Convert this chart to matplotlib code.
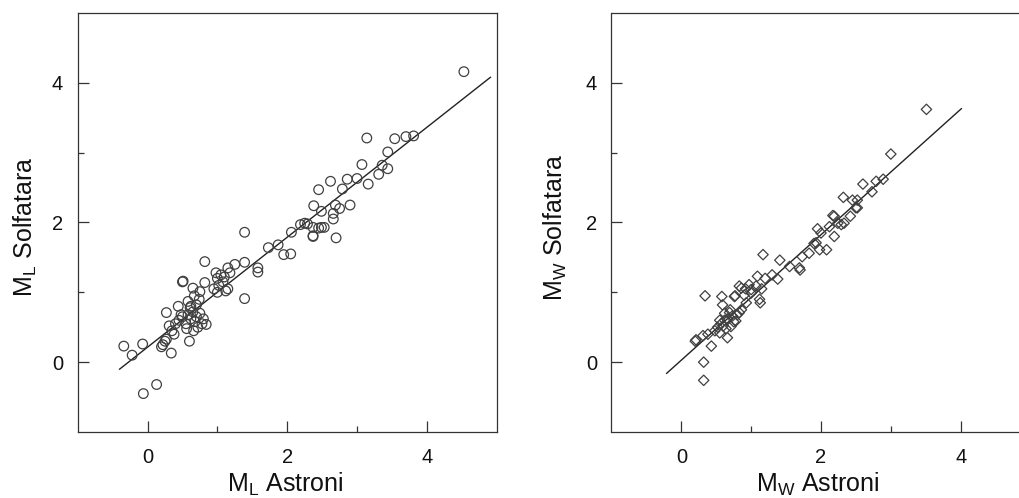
import numpy as np
import matplotlib
matplotlib.use("Agg")
import matplotlib.pyplot as plt
from matplotlib.ticker import FixedLocator

plt.rcParams['font.family'] = ['Liberation Sans', 'DejaVu Sans']
plt.rcParams['mathtext.fontset'] = 'custom'
plt.rcParams['mathtext.rm'] = 'Liberation Sans'

# ---- data: left panel (ML) ----
ml_astroni = [-0.34, -0.22, -0.07, -0.06, 0.13,
              0.20, 0.22, 0.25, 0.27, 0.34, 0.27, 0.31,
              0.44, 0.51, 0.58, 0.61, 0.60,
              0.45, 0.50, 0.55, 0.58, 0.62, 0.65, 0.68, 0.70, 0.72, 0.75, 0.78, 0.80,
              0.84, 0.66, 0.56, 0.48, 0.40, 0.38, 0.35, 0.62, 0.70, 0.74, 0.67,
              0.65, 0.82, 0.82, 0.75, 0.50,
              0.95, 1.00, 1.02, 1.05, 1.08, 1.10, 1.12, 1.15, 1.18, 1.15, 1.25, 1.00, 0.98,
              1.39, 1.39, 1.39, 1.58, 1.58, 1.73, 1.87, 1.95, 2.05, 2.06, 2.19, 2.29,
              2.37, 2.45, 2.53, 2.70, 2.37,
              2.25, 2.37, 2.49, 2.66, 2.38, 2.69, 2.90, 2.75, 2.66, 2.49, 2.45, 2.79,
              2.62, 2.86, 3.00, 3.16, 3.07, 3.36, 3.44, 3.31, 3.44, 3.14, 3.54, 3.70,
              3.81, 4.53]
ml_solfatara = [0.23, 0.10, 0.26, -0.45, -0.32,
                0.22, 0.25, 0.30, 0.33, 0.13, 0.71, 0.52,
                0.80, 1.16, 0.87, 0.78, 0.30,
                0.60, 0.65, 0.55, 0.68, 0.62, 0.72, 0.58, 0.65, 0.50, 0.70, 0.55, 0.62,
                0.54, 0.45, 0.48, 0.68, 0.55, 0.40, 0.45, 0.80, 0.82, 0.90, 0.95,
                1.06, 1.14, 1.44, 1.01, 1.15,
                1.05, 1.20, 1.10, 1.25, 1.15, 1.22, 1.02, 1.05, 1.28, 1.35, 1.40, 1.00, 1.28,
                1.86, 1.43, 0.91, 1.35, 1.29, 1.64, 1.68, 1.54, 1.55, 1.86, 1.97, 1.98,
                1.81, 1.92, 1.93, 1.78, 1.80,
                1.99, 1.93, 1.93, 2.05, 2.24, 2.25, 2.25, 2.20, 2.13, 2.16, 2.47, 2.48,
                2.59, 2.62, 2.63, 2.55, 2.83, 2.82, 2.77, 2.69, 3.01, 3.21, 3.20, 3.23,
                3.24, 4.16]
ml_fit_coef = [0.787, 0.215]      # slope, intercept
ml_fit_range = [-0.40, 4.91]

# ---- data: right panel (MW) ----
mw_astroni = [0.32, 0.32, 0.34, 0.20, 0.21, 0.31, 0.38, 0.43,
              0.48, 0.52, 0.55, 0.57, 0.60, 0.62, 0.64, 0.66, 0.66, 0.69, 0.71, 0.73,
              0.75, 0.78, 0.80, 0.83, 0.86, 0.93, 0.58, 0.59, 0.70, 0.55, 0.62,
              0.76, 0.77, 0.83, 0.86, 0.90, 0.92, 0.97, 1.00, 1.00, 1.07, 1.09, 1.12,
              1.13, 1.15, 1.17, 1.20, 1.30, 1.38, 1.41, 1.55, 1.69, 1.70, 1.73, 1.83,
              1.93, 1.98, 2.08, 1.95, 2.00, 1.90,
              2.12, 2.19, 2.19, 2.29, 2.33, 2.42, 2.52, 2.52, 2.32, 2.45, 2.50, 2.24,
              2.17, 2.60, 2.73, 2.79, 2.89, 3.00, 3.51]
mw_solfatara = [-0.26, 0.00, 0.95, 0.30, 0.32, 0.38, 0.40, 0.23,
                0.45, 0.50, 0.42, 0.55, 0.52, 0.60, 0.48, 0.35, 0.62, 0.71, 0.51, 0.66,
                0.58, 0.59, 0.68, 0.71, 0.75, 0.85, 0.94, 0.82, 0.75, 0.60, 0.70,
                0.94, 0.95, 1.09, 1.06, 0.96, 1.05, 1.11, 1.04, 0.99, 1.09, 1.23, 0.90,
                0.85, 1.05, 1.54, 1.20, 1.25, 1.19, 1.46, 1.37, 1.35, 1.32, 1.51, 1.56,
                1.71, 1.61, 1.61, 1.91, 1.85, 1.70,
                1.94, 2.09, 1.80, 1.97, 1.99, 2.09, 2.21, 2.32, 2.36, 2.32, 2.21, 1.99,
                2.10, 2.55, 2.44, 2.59, 2.62, 2.98, 3.62]
mw_fit_coef = [0.898, 0.029]
mw_fit_range = [-0.21, 4.01]

ticks_major = [0, 2, 4]
ticks_minor = [1, 3]
tick_labels = ['0', '2', '4']

W, H = 1020, 498
fig = plt.figure(figsize=(W / 100, H / 100), dpi=100)

ax_w = 419 / W
ax_h = 419 / H
ax_b = (H - 432) / H
axL = fig.add_axes([77.7 / W, ax_b, ax_w, ax_h])
axR = fig.add_axes([611.5 / W, ax_b, ax_w, ax_h])

spine_col = '#333333'
for ax in (axL, axR):
    ax.set_xlim(-1, 5)
    ax.set_ylim(-1, 5)
    ax.set_xticks(ticks_major)
    ax.set_xticklabels(tick_labels)
    ax.set_yticks(ticks_major)
    ax.set_yticklabels(tick_labels)
    ax.xaxis.set_minor_locator(FixedLocator(ticks_minor))
    ax.yaxis.set_minor_locator(FixedLocator(ticks_minor))
    ax.tick_params(which='major', direction='in', length=8, width=0.9,
                   color=spine_col, labelsize=14.5, labelcolor='#111111')
    ax.tick_params(which='minor', direction='in', length=4, width=0.9, color=spine_col)
    ax.tick_params(axis='x', which='major', pad=11.5)
    ax.tick_params(axis='y', which='major', pad=10.5)
    ax.tick_params(top=False, right=False, which='both')
    for s in ax.spines.values():
        s.set_color(spine_col)
        s.set_linewidth(0.9)

axR.spines['right'].set_visible(False)

# left scatter
axL.scatter(ml_astroni, ml_solfatara, s=48, marker='o', facecolors='none',
            edgecolors='#404040', linewidths=0.9, zorder=3)
xl = np.array(ml_fit_range)
axL.plot(xl, np.polyval(ml_fit_coef, xl), color='#222222', lw=1.0, zorder=2)

# right scatter
axR.scatter(mw_astroni, mw_solfatara, s=28, marker='D', facecolors='none',
            edgecolors='#404040', linewidths=0.9, zorder=3)
xr = np.array(mw_fit_range)
axR.plot(xr, np.polyval(mw_fit_coef, xr), color='#222222', lw=1.0, zorder=2)

lab_kw = dict(fontsize=18, color='#111111')
fig.text(25 / W, 1 - 227 / H, r'M$_\mathregular{L}$ Solfatara', rotation=90,
         ha='center', va='center', **lab_kw)
fig.text(555 / W, 1 - 227 / H, r'M$_\mathregular{W}$ Solfatara', rotation=90,
         ha='center', va='center', **lab_kw)
fig.text(285 / W, 6 / H, r'M$_\mathregular{L}$ Astroni', ha='center',
         va='baseline', **lab_kw)
fig.text(818 / W, 6 / H, r'M$_\mathregular{W}$ Astroni', ha='center',
         va='baseline', **lab_kw)

fig.savefig('out.png', dpi=100)
